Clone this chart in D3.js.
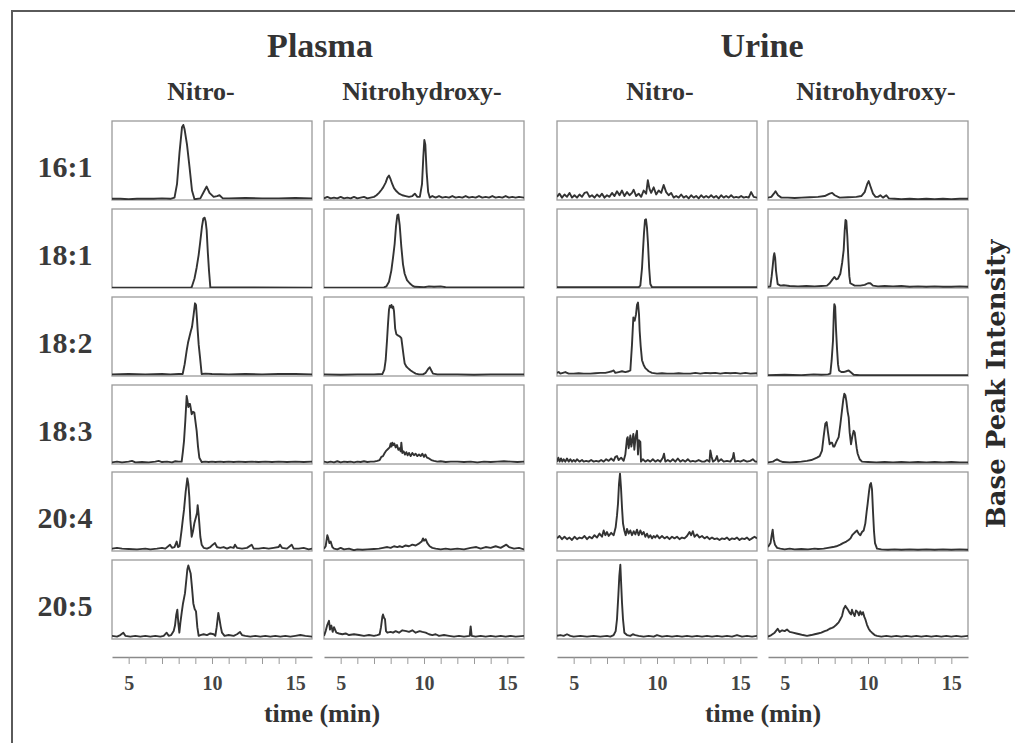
<!DOCTYPE html>
<html>
<head>
<meta charset="utf-8">
<script src="https://cdn.jsdelivr.net/npm/d3@7"></script>
<style>
  body { margin: 0; background: #fff; }
  svg { display: block; }
</style>
</head>
<body>
<div id="visual-container"></div>
<script>
// column / row categories
const samples = ['Plasma', 'Urine']
const types = ['Nitro-', 'Nitrohydroxy-']
const lipids = ['16:1', '18:1', '18:2', '18:3', '20:4', '20:5']
const timeDomain = [4, 16]
const minorTicks = [5, 6, 7, 8, 9, 10, 11, 12, 13, 14, 15]
const labelTicks = [5, 10, 15]

// chromatograms: [time (min), relative base peak intensity %]
const plasmaNitro161 = [[4,1.5],[4.5,1.5],[5,1],[5.5,1.5],[6,1.5],[6.5,1.5],[7,2],[7.5,1.5],[7.75,3],[7.9,20],[8.05,60],[8.2,92],[8.28,95],[8.35,90],[8.5,70],[8.65,42],[8.8,12],[8.95,1],[9.3,2],[9.55,12],[9.68,17],[9.85,9],[10.1,4],[10.3,5],[10.45,6],[10.65,2],[11,2],[12,2.5],[13,2],[14,2],[15,2.5],[16,2]]
const plasmaHydroxy161 = [[4,2],[4.2,4],[4.4,2],[4.6,3],[4.8,2],[5,4],[5.2,2],[5.4,3],[5.6,2],[5.8,4],[6,2],[6.2,3],[6.4,4],[6.6,2],[6.8,3],[7,4],[7.15,6],[7.3,9],[7.45,13],[7.55,16],[7.7,22],[7.8,28],[7.9,31],[8.0,26],[8.1,20],[8.2,15],[8.35,11],[8.5,8],[8.7,6],[8.9,5],[9.1,4],[9.3,5],[9.45,8],[9.6,4],[9.75,4],[9.88,20],[9.96,55],[10.02,76],[10.08,70],[10.16,35],[10.25,10],[10.35,3],[10.5,5],[10.7,3],[10.9,5],[11.1,3],[11.3,4],[11.5,3],[11.7,5],[11.9,3],[12.1,4],[12.3,3],[12.5,5],[12.7,3],[12.9,4],[13.1,3],[13.3,5],[13.5,3],[13.7,4],[13.9,3],[14.1,5],[14.3,3],[14.5,4],[14.7,3],[14.9,5],[15.1,3],[15.3,4],[15.5,3],[15.7,4],[16,3]]
const urineNitro161 = [[4,4],[4.15,8],[4.3,3],[4.45,7],[4.6,4],[4.75,9],[4.9,3],[5.05,6],[5.2,3],[5.35,7],[5.5,4],[5.65,9],[5.8,10],[5.95,4],[6.1,6],[6.25,3],[6.4,7],[6.55,4],[6.7,8],[6.85,3],[7.0,6],[7.15,4],[7.3,9],[7.45,5],[7.6,11],[7.75,6],[7.9,12],[8.05,5],[8.2,10],[8.35,6],[8.5,9],[8.6,13],[8.75,5],[8.9,8],[9.05,4],[9.2,12],[9.35,8],[9.45,25],[9.55,14],[9.65,9],[9.8,16],[9.95,7],[10.1,12],[10.25,9],[10.4,19],[10.55,10],[10.7,6],[10.85,9],[11.0,3],[11.15,5],[11.3,3],[11.45,7],[11.6,3],[11.75,5],[11.9,2],[12.05,6],[12.2,3],[12.35,5],[12.5,2],[12.65,6],[12.8,3],[12.95,5],[13.1,3],[13.25,6],[13.4,3],[13.55,5],[13.7,2],[13.85,6],[14.0,3],[14.15,5],[14.3,3],[14.45,6],[14.6,3],[14.75,4],[14.9,3],[15.05,5],[15.2,3],[15.35,4],[15.5,3],[15.65,10],[15.8,4],[16,3]]
const urineHydroxy161 = [[4,3],[4.2,4],[4.35,8],[4.45,11],[4.6,6],[4.8,3],[5.2,3],[5.6,2.5],[6,3],[6.5,3.5],[7,4],[7.4,5],[7.7,8],[7.85,9],[8.0,6],[8.3,3],[8.8,3.5],[9.3,4],[9.6,5],[9.8,10],[9.95,20],[10.04,24],[10.15,17],[10.3,8],[10.45,4],[10.6,4],[10.74,6],[10.9,3],[11.1,6],[11.25,2],[11.6,1.5],[12,1],[12.5,1.5],[13,1],[13.5,1.5],[14,1],[14.5,1.5],[15,1],[15.5,1.5],[16,1.5]]

const plasmaNitro181 = [[4,0.5],[8.7,0.5],[8.78,1],[8.95,12],[9.08,26],[9.2,42],[9.28,56],[9.4,78],[9.48,88],[9.56,89],[9.62,84],[9.68,73],[9.75,45],[9.82,22],[9.9,0.8],[16,0.5]]
const plasmaHydroxy181 = [[4,0.5],[7.6,0.8],[7.74,2],[7.9,8],[8.04,22],[8.14,38],[8.24,56],[8.32,78],[8.4,92],[8.46,93],[8.54,80],[8.64,52],[8.74,30],[8.84,18],[8.98,10],[9.14,6],[9.3,3],[9.44,1.5],[10,1],[10.3,2],[10.6,1.5],[11,2],[11.3,1],[12,0.8],[16,0.8]]
const urineNitro181 = [[4,1],[8.9,1],[9.0,3],[9.1,25],[9.16,48],[9.22,70],[9.28,86],[9.34,87],[9.4,76],[9.46,56],[9.53,25],[9.6,5],[9.7,1],[16,1]]
const urineHydroxy181 = [[4,1.5],[4.14,2],[4.22,15],[4.28,27],[4.34,40],[4.38,44],[4.43,38],[4.48,22],[4.58,5],[4.75,3],[4.94,3.5],[5.3,2.5],[5.8,2],[6.3,2.5],[6.8,2],[7.2,2.5],[7.54,3],[7.7,6],[7.84,10],[7.98,14],[8.1,11],[8.2,12],[8.34,18],[8.45,32],[8.54,48],[8.6,72],[8.65,86],[8.7,85],[8.76,65],[8.82,38],[8.88,15],[8.94,6],[9.2,3],[9.54,3],[9.8,4],[10.0,6],[10.14,6],[10.3,3],[10.6,2],[11,2.5],[11.5,2],[12,2.5],[12.5,1.5],[13,2],[13.5,1.5],[14,2],[14.5,1.5],[15,1.5],[15.5,2],[16,1.5]]

const plasmaNitro182 = [[4,2],[5,2.5],[6,2],[7,2.5],[7.5,2],[8,2.5],[8.24,2.5],[8.36,15],[8.48,32],[8.56,42],[8.64,49],[8.72,56],[8.8,62],[8.9,78],[8.98,92],[9.04,90],[9.1,72],[9.14,58],[9.2,40],[9.28,24],[9.38,2.5],[9.6,3],[10,2.5],[11,2],[12,2.5],[13,2],[14,2.5],[15,2.5],[16,2]]
const plasmaHydroxy182 = [[4,2],[5,1.5],[6,2],[7,2],[7.5,2.5],[7.62,8],[7.7,20],[7.78,45],[7.84,66],[7.9,84],[7.95,89],[8.0,87],[8.05,90],[8.1,86],[8.15,88],[8.2,82],[8.27,60],[8.34,53],[8.4,52],[8.46,51],[8.55,50],[8.64,48],[8.7,38],[8.78,25],[8.84,16],[8.94,12],[9.04,10],[9.2,7],[9.34,5],[9.5,3],[9.7,2],[9.94,2],[10.1,4],[10.25,9],[10.34,11],[10.44,7],[10.54,3],[10.8,2],[11,2],[12,2],[13,1.5],[14,2],[15,2],[16,2]]
const urineNitro182 = [[4,4],[4.1,5],[4.2,3],[4.35,4],[4.5,5],[4.7,3],[5,3],[5.3,3.5],[5.6,3],[6,3],[6.3,3.5],[6.6,4],[6.9,4],[7.1,5],[7.3,6],[7.4,7],[7.5,4],[7.7,5],[7.9,6],[8.1,5],[8.3,6],[8.4,7],[8.5,40],[8.58,74],[8.66,70],[8.74,78],[8.8,90],[8.86,93],[8.92,78],[8.96,57],[9.02,38],[9.1,20],[9.2,14],[9.3,10],[9.4,8],[9.5,6],[9.7,4],[10,3],[10.3,3.5],[10.6,3],[11,3],[11.3,3.5],[11.6,3],[12,3],[12.3,4],[12.6,3],[12.9,4],[13.2,3.5],[13.5,4],[13.8,3],[14.1,4],[14.4,3.5],[14.7,4],[15,3],[15.3,4],[15.6,3],[16,3.5]]
const urineHydroxy182 = [[4,1],[5,1.5],[6,1],[6.74,2],[7.2,1.5],[7.6,2],[7.74,3],[7.82,20],[7.9,45],[7.95,80],[7.98,91],[8.03,88],[8.08,60],[8.14,35],[8.2,15],[8.26,7],[8.4,5],[8.54,5],[8.7,6],[8.84,7],[8.95,5],[9.14,1.5],[9.5,1],[10,1],[16,1]]

const plasmaNitro183 = [[4,2],[4.3,3],[4.6,2],[5,3],[5.2,4],[5.4,2],[5.8,2.5],[6.2,2],[6.6,3],[6.8,4],[7.0,2.5],[7.3,3],[7.6,2],[7.8,3.5],[8.0,3],[8.18,3],[8.25,15],[8.32,29],[8.4,55],[8.48,86],[8.53,80],[8.58,72],[8.63,76],[8.68,76],[8.73,70],[8.78,63],[8.86,66],[8.94,65],[9.0,55],[9.08,42],[9.16,22],[9.24,8],[9.38,2.5],[9.6,3],[9.8,2.5],[10.0,3],[10.2,2.5],[10.5,3],[10.7,2.5],[11,3],[11.3,2.5],[11.6,3],[12,2.5],[12.4,3],[12.8,2.5],[13.2,3],[13.6,2.5],[14,3],[14.5,2.5],[15,3],[15.5,2.5],[16,3]]
const plasmaHydroxy183 = [[4,3],[4.2,2],[4.4,3],[4.6,2],[4.8,3.5],[5,2],[5.2,3],[5.4,2.5],[5.6,3],[5.8,2],[6,3],[6.2,2.5],[6.4,3.5],[6.6,2.5],[6.8,3],[7.0,3],[7.2,4],[7.34,5],[7.44,9],[7.54,10],[7.64,14],[7.74,17],[7.84,19],[7.94,21],[8.0,26],[8.05,22],[8.1,27],[8.16,24],[8.22,26],[8.3,21],[8.38,24],[8.46,18],[8.54,20],[8.6,16],[8.64,27],[8.7,14],[8.78,16],[8.86,12],[8.94,15],[9.02,11],[9.1,14],[9.2,10],[9.3,14],[9.4,11],[9.5,13],[9.6,10],[9.7,12],[9.8,10],[9.9,13],[10.0,9],[10.08,12],[10.18,8],[10.3,7],[10.44,5],[10.6,4],[10.8,3],[11.0,3.5],[11.3,2.5],[11.6,3],[12.0,3],[12.4,2.5],[12.8,3],[13.2,2],[13.6,3],[14,2.5],[14.4,3],[14.8,3.5],[15.2,3],[15.6,2.5],[16,3]]
const urineNitro183 = [[4,3],[4.08,8],[4.16,3],[4.24,7],[4.32,3],[4.4,6],[4.5,3],[4.6,7],[4.7,3],[4.8,6],[4.9,3],[5.0,5],[5.1,3],[5.2,6],[5.35,3],[5.5,5],[5.6,3],[5.75,4],[5.9,3],[6.05,5],[6.2,3],[6.35,4],[6.5,3],[6.65,5],[6.8,3],[6.95,6],[7.1,4],[7.25,7],[7.4,4],[7.5,9],[7.6,10],[7.7,5],[7.85,8],[8.0,4],[8.1,12],[8.2,32],[8.24,34],[8.3,20],[8.4,36],[8.46,22],[8.52,30],[8.58,38],[8.64,18],[8.72,35],[8.8,42],[8.86,12],[8.92,30],[9.0,28],[9.04,3],[9.15,6],[9.3,3],[9.45,5],[9.6,3],[9.75,6],[9.9,3],[10.05,5],[10.2,3],[10.35,8],[10.42,13],[10.5,3],[10.65,5],[10.8,3],[10.95,6],[11.1,3],[11.25,7],[11.4,3],[11.55,5],[11.7,3],[11.85,6],[12.0,3],[12.15,4],[12.3,3],[12.5,5],[12.7,3],[12.85,3],[13.0,5],[13.15,3],[13.2,17],[13.28,9],[13.36,3],[13.5,5],[13.6,10],[13.68,3],[13.85,6],[14.0,3],[14.2,4],[14.4,3],[14.55,8],[14.6,14],[14.68,3],[14.85,4],[15.0,3],[15.2,5],[15.4,3],[15.6,4],[15.75,6],[15.9,3],[16,3]]
const urineHydroxy183 = [[4,2],[4.3,3],[4.45,5],[4.54,6],[4.7,4],[4.9,2.5],[5.3,2],[5.7,2.5],[6.0,3],[6.34,4],[6.6,5],[6.94,8],[7.1,10],[7.24,17],[7.34,35],[7.44,51],[7.52,53],[7.6,40],[7.7,25],[7.78,27],[7.84,27],[7.92,22],[7.98,22],[8.1,28],[8.24,34],[8.34,50],[8.44,68],[8.52,82],[8.58,89],[8.64,87],[8.7,80],[8.78,66],[8.84,59],[8.9,40],[8.98,25],[9.06,35],[9.14,42],[9.2,40],[9.26,30],[9.32,20],[9.38,13],[9.5,6],[9.64,3],[10,2.5],[10.5,2],[11,2.5],[11.5,2],[12,2.5],[12.5,2],[13,2.5],[13.5,2],[14,2.5],[14.5,2],[15,2.5],[15.5,2],[16,2]]

const plasmaNitro204 = [[4,3],[4.3,4],[4.6,3],[5,2.5],[5.5,2],[6,3],[6.3,2],[6.7,3],[7.0,4],[7.2,3],[7.48,8],[7.6,4],[7.75,5],[7.88,12],[7.96,5],[8.05,6],[8.18,27],[8.25,40],[8.32,52],[8.42,75],[8.52,92],[8.58,85],[8.64,68],[8.7,40],[8.78,18],[8.86,25],[8.94,35],[9.04,43],[9.1,48],[9.14,58],[9.19,48],[9.24,35],[9.3,18],[9.38,8],[9.5,4],[9.7,3],[9.9,5],[10.05,8],[10.18,10],[10.3,5],[10.5,4],[10.7,5],[10.9,3],[11.1,5],[11.3,4],[11.38,8],[11.5,4],[11.8,3],[12.1,4],[12.38,8],[12.5,3],[12.8,3],[13.1,4],[13.4,3],[13.7,4],[14.0,5],[14.08,8],[14.2,4],[14.5,3],[14.78,8],[14.9,3],[15.2,3],[15.5,4],[15.8,2],[16,3]]
const plasmaHydroxy204 = [[4,3],[4.1,6],[4.2,20],[4.26,16],[4.32,10],[4.4,12],[4.5,5],[4.6,3],[4.8,2],[5.0,4],[5.2,2],[5.5,3],[5.8,1],[6.0,2],[6.3,1.5],[6.6,2],[7.0,2.5],[7.3,3],[7.54,4],[7.8,5],[8.0,4],[8.2,6],[8.4,5],[8.54,6],[8.7,5],[8.9,7],[9.1,6],[9.3,8],[9.5,7],[9.74,10],[9.86,12],[9.94,16],[10.0,13],[10.1,15],[10.2,10],[10.34,6],[10.5,4],[10.7,3],[11,2],[11.3,3],[11.6,2],[12,3],[12.4,2],[12.8,4],[13.14,5],[13.4,3],[13.7,5],[14.0,4],[14.3,6],[14.6,4],[14.94,8],[15.1,5],[15.4,3],[15.7,4],[16,2]]
const urineNitro204 = [[4,16],[4.15,19],[4.3,15],[4.45,18],[4.6,15],[4.75,17],[4.9,14],[5.05,18],[5.2,15],[5.35,17],[5.5,16],[5.65,19],[5.8,15],[5.95,18],[6.1,16],[6.25,20],[6.4,17],[6.55,22],[6.7,18],[6.8,26],[6.9,20],[7.0,24],[7.1,19],[7.25,23],[7.4,20],[7.52,30],[7.6,45],[7.66,60],[7.72,85],[7.78,98],[7.84,80],[7.9,55],[7.96,35],[8.04,26],[8.12,20],[8.2,28],[8.3,22],[8.4,26],[8.5,20],[8.6,25],[8.7,21],[8.8,27],[8.9,20],[9.0,26],[9.1,21],[9.2,24],[9.3,18],[9.4,22],[9.5,17],[9.6,20],[9.7,16],[9.8,19],[9.9,17],[10.0,20],[10.15,16],[10.3,19],[10.45,16],[10.6,18],[10.75,15],[10.9,18],[11.05,16],[11.2,18],[11.35,15],[11.5,17],[11.65,16],[11.8,19],[11.95,24],[12.05,20],[12.15,25],[12.25,18],[12.4,21],[12.55,17],[12.7,19],[12.85,16],[13.0,18],[13.15,15],[13.3,17],[13.45,15],[13.6,16],[13.75,14],[13.9,16],[14.05,15],[14.2,17],[14.35,14],[14.5,16],[14.65,15],[14.8,17],[14.95,14],[15.1,16],[15.25,15],[15.4,17],[15.55,14],[15.7,16],[15.85,18],[16,16]]
const urineHydroxy204 = [[4,5],[4.15,10],[4.22,20],[4.28,27],[4.34,15],[4.42,8],[4.55,4],[4.74,3],[5.0,2],[5.3,3],[5.6,2],[6.0,2.5],[6.4,2],[6.8,3],[7.0,2.5],[7.34,3],[7.6,4],[7.9,5],[8.1,6],[8.34,8],[8.5,10],[8.7,12],[8.84,14],[8.95,16],[9.05,20],[9.14,22],[9.24,24],[9.34,26],[9.44,22],[9.54,20],[9.64,24],[9.74,26],[9.84,35],[9.92,50],[9.98,60],[10.06,75],[10.12,84],[10.18,86],[10.24,78],[10.3,50],[10.36,25],[10.42,10],[10.54,3],[10.8,2],[11.2,1.5],[11.6,2],[12,1.5],[12.5,2],[13,1.5],[13.5,2],[14,1.5],[14.5,2],[15,1.5],[15.5,2],[16,1.5]]

const plasmaNitro205 = [[4,4],[4.3,3],[4.5,5],[4.68,8],[4.8,4],[5.1,3],[5.4,4],[5.7,3],[6.0,4],[6.3,3],[6.6,4],[6.9,3],[7.1,4],[7.28,8],[7.4,4],[7.55,5],[7.7,10],[7.78,17],[7.85,30],[7.92,37],[7.98,20],[8.04,8],[8.1,20],[8.18,33],[8.26,45],[8.38,58],[8.46,75],[8.52,88],[8.58,93],[8.65,88],[8.72,83],[8.8,65],[8.88,45],[8.96,38],[9.04,35],[9.12,15],[9.2,4],[9.3,5],[9.5,6],[9.7,5],[9.9,7],[10.1,6],[10.2,4],[10.28,15],[10.38,33],[10.45,25],[10.52,16],[10.6,8],[10.75,4],[11.0,5],[11.3,4],[11.5,6],[11.68,9],[11.8,5],[12.0,4],[12.3,3],[12.6,4],[12.9,3],[13.2,4],[13.5,3],[13.8,4],[14.1,3],[14.4,4],[14.7,3],[15.0,4],[15.3,5],[15.6,4],[16,3]]
const plasmaHydroxy205 = [[4,4],[4.1,10],[4.2,18],[4.3,23],[4.36,12],[4.44,17],[4.52,9],[4.6,15],[4.74,8],[4.9,7],[5.1,6],[5.3,7],[5.5,5],[5.8,6],[6.1,5],[6.4,4],[6.7,5],[7.0,4],[7.2,5],[7.34,6],[7.42,15],[7.5,28],[7.54,31],[7.6,27],[7.66,25],[7.72,10],[7.8,8],[8.0,9],[8.14,8],[8.3,10],[8.5,8],[8.7,11],[8.94,10],[9.1,9],[9.3,11],[9.5,8],[9.74,10],[9.9,9],[10.1,8],[10.3,6],[10.5,5],[10.7,6],[10.9,4],[11.2,5],[11.5,4],[11.8,3],[12.1,4],[12.4,3],[12.74,4],[12.8,16],[12.86,4],[13.1,3],[13.4,4],[13.7,3],[14.0,4],[14.3,3],[14.6,4],[14.9,3],[15.2,4],[15.5,3],[16,4]]
const urineNitro205 = [[4,4],[4.2,5],[4.4,4],[4.6,6],[4.8,4],[5.0,3],[5.4,4],[5.8,3],[6.2,4],[6.6,3],[7.0,4],[7.2,3],[7.4,5],[7.52,10],[7.6,25],[7.68,55],[7.74,80],[7.8,94],[7.85,70],[7.9,46],[7.96,25],[8.04,8],[8.2,5],[8.4,4],[8.55,6],[8.7,5],[8.9,4],[9.2,3],[9.5,4],[9.8,3],[10.0,5],[10.3,3],[10.6,4],[10.9,3],[11.2,4],[11.5,3],[11.8,4],[12.1,3],[12.4,4],[12.7,3],[13.0,4],[13.3,3],[13.6,4],[13.9,3],[14.2,4],[14.5,3],[14.8,5],[15.1,3],[15.4,4],[15.7,3],[16,4]]
const urineHydroxy205 = [[4,3],[4.2,5],[4.4,8],[4.58,13],[4.7,9],[4.85,11],[5.0,10],[5.14,12],[5.3,9],[5.5,8],[5.7,7],[5.9,6],[6.1,5],[6.34,4],[6.6,5],[6.8,6],[7.0,7],[7.2,8],[7.4,10],[7.54,11],[7.7,13],[7.84,14],[7.94,15],[8.1,18],[8.24,21],[8.34,25],[8.44,29],[8.54,38],[8.64,42],[8.7,40],[8.8,37],[8.9,33],[8.98,31],[9.04,37],[9.1,33],[9.2,29],[9.28,36],[9.38,34],[9.46,30],[9.54,35],[9.62,31],[9.7,34],[9.78,28],[9.84,25],[9.94,18],[10.04,13],[10.14,10],[10.24,8],[10.4,5],[10.54,4],[10.8,3],[11.1,4],[11.4,3],[11.7,4],[12,3],[12.3,4],[12.6,3],[12.9,4],[13.2,3],[13.5,4],[13.8,3],[14.1,4],[14.4,3],[14.7,4],[15,3],[15.3,4],[15.6,3],[16,4]]

// rows = lipids, columns = plasma nitro, plasma nitrohydroxy, urine nitro, urine nitrohydroxy
const grid = [
    [plasmaNitro161, plasmaHydroxy161, urineNitro161, urineHydroxy161],
    [plasmaNitro181, plasmaHydroxy181, urineNitro181, urineHydroxy181],
    [plasmaNitro182, plasmaHydroxy182, urineNitro182, urineHydroxy182],
    [plasmaNitro183, plasmaHydroxy183, urineNitro183, urineHydroxy183],
    [plasmaNitro204, plasmaHydroxy204, urineNitro204, urineHydroxy204],
    [plasmaNitro205, plasmaHydroxy205, urineNitro205, urineHydroxy205]
]

const width = 1015
const height = 743
const panelW = 200
const panelH = 79
const colX = [112, 324, 557, 768]
const rowY = [121, 209, 297, 385, 472, 560]
const axisY = 657
const serif = "'Liberation Serif', 'Times New Roman', serif"

const svg = d3.select('#visual-container')
              .append('svg')
              .attr('width', width)
              .attr('height', height)

// outer frame (left and top edges)
svg.append('path')
    .attr('d', `M12,${height} V11 H${width}`)
    .attr('fill', 'none')
    .attr('stroke', '#5a5a5a')
    .attr('stroke-width', 2)

const xScales = colX.map(x0 => d3.scaleLinear().domain(timeDomain).range([x0, x0 + panelW]))
const yScales = rowY.map(y0 => d3.scaleLinear().domain([0, 100]).range([y0 + panelH, y0]))

const defs = svg.append('defs')

// panels
grid.forEach((row, r) => {
    row.forEach((trace, c) => {
        const x = xScales[c]
        const y = yScales[r]
        const id = `clip-${r}-${c}`
        defs.append('clipPath').attr('id', id)
            .append('rect')
            .attr('x', colX[c]).attr('y', rowY[r])
            .attr('width', panelW).attr('height', panelH)

        svg.append('rect')
            .attr('x', colX[c]).attr('y', rowY[r])
            .attr('width', panelW).attr('height', panelH)
            .attr('fill', '#fff')
            .attr('stroke', '#9a9a9a')
            .attr('stroke-width', 1.3)

        const line = d3.line()
                       .x(d => x(d[0]))
                       .y(d => y(d[1]))

        svg.append('path')
            .datum(trace)
            .attr('clip-path', `url(#${id})`)
            .attr('d', line)
            .attr('fill', 'none')
            .attr('stroke', '#333')
            .attr('stroke-width', 1.9)
            .attr('stroke-linejoin', 'round')
    })
})

// time axes under each column
xScales.forEach(x => {
    const axis = d3.axisBottom(x)
                   .tickValues(minorTicks)
                   .tickSizeInner(7)
                   .tickSizeOuter(0)
                   .tickPadding(12)
                   .tickFormat(d => labelTicks.includes(d) ? d : '')
    const g = svg.append('g')
        .attr('transform', `translate(0, ${axisY})`)
        .call(axis)
    g.select('.domain').attr('stroke', '#8a8a8a').attr('stroke-width', 1.6)
    g.selectAll('.tick line').attr('stroke', '#9a9a9a').attr('stroke-width', 1)
    g.selectAll('.tick text')
        .attr('fill', '#444')
        .style('font-family', serif)
        .style('font-weight', 'bold')
        .style('font-size', '20px')
})

// sample headers
const sampleCenters = [320, 762]
samples.forEach((s, i) => {
    svg.append('text')
        .attr('x', sampleCenters[i]).attr('y', 57)
        .attr('text-anchor', 'middle')
        .attr('fill', '#333')
        .style('font-family', serif)
        .style('font-weight', 'bold')
        .style('font-size', '34px')
        .text(s)
})

// type headers
const typeCenters = [201, 422, 660, 876]
typeCenters.forEach((cx, i) => {
    svg.append('text')
        .attr('x', cx).attr('y', 100)
        .attr('text-anchor', 'middle')
        .attr('fill', '#333')
        .style('font-family', serif)
        .style('font-weight', 'bold')
        .style('font-size', '26px')
        .text(types[i % 2])
})

// row labels
lipids.forEach((l, i) => {
    svg.append('text')
        .attr('x', 65).attr('y', rowY[i] + panelH / 2 + 16)
        .attr('text-anchor', 'middle')
        .attr('fill', '#3a3a3a')
        .style('font-family', serif)
        .style('font-weight', 'bold')
        .style('font-size', '30px')
        .text(l)
})

// axis titles
const timeCenters = [322, 763]
timeCenters.forEach(cx => {
    svg.append('text')
        .attr('x', cx).attr('y', 722)
        .attr('text-anchor', 'middle')
        .attr('fill', '#333')
        .style('font-family', serif)
        .style('font-weight', 'bold')
        .style('font-size', '26px')
        .text('time (min)')
})

svg.append('text')
    .attr('transform', 'translate(1005, 384) rotate(-90)')
    .attr('text-anchor', 'middle')
    .attr('fill', '#2a2a2a')
    .style('font-family', "'DejaVu Serif', serif")
    .style('font-weight', 'bold')
    .style('font-size', '26px')
    .text('Base Peak Intensity')
</script>
</body>
</html>
